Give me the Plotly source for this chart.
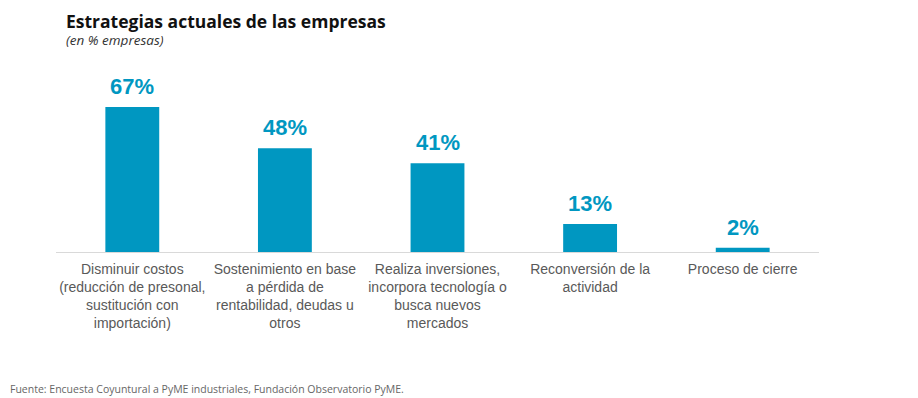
import plotly.graph_objects as go

categories = [
    "Disminuir costos<br>(reducción de presonal,<br>sustitución con<br>importación)",
    "Sostenimiento en base<br>a pérdida de<br>rentabilidad, deudas u<br>otros",
    "Realiza inversiones,<br>incorpora tecnología o<br>busca nuevos<br>mercados",
    "Reconversión de la<br>actividad",
    "Proceso de cierre",
]
values = [67, 48, 41, 13, 2]
value_labels = ["67%", "48%", "41%", "13%", "2%"]

BLUE = "#0097C1"
FONT = "Liberation Sans, Arial, sans-serif"

fig = go.Figure(go.Bar(
    x=categories,
    y=values,
    marker=dict(color=BLUE, line=dict(width=0)),
    hoverinfo="skip",
))

for c, v, t in zip(categories, values, value_labels):
    fig.add_annotation(
        x=c, y=v, text="<b>" + t + "</b>", showarrow=False,
        xanchor="center", yanchor="bottom", yshift=6,
        font=dict(family=FONT, size=22, color=BLUE),
    )

fig.update_layout(
    width=910, height=390,
    margin=dict(l=47.5, r=98.5, t=71, b=146, autoexpand=False),
    paper_bgcolor="white", plot_bgcolor="white",
    bargap=0.647,
    showlegend=False,
    font=dict(family=FONT),
)
fig.update_xaxes(
    showline=True, linecolor="#D9D9D9", linewidth=1,
    tickfont=dict(size=14, color="#595959", family=FONT),
    ticks="", showgrid=False, tickangle=0, automargin=False,
    ticklabelstandoff=4,
)
fig.update_yaxes(visible=False, range=[0, 80], showgrid=False, zeroline=False)

fig.add_annotation(
    text="<b>Estrategias actuales de las empresas</b>",
    xref="paper", yref="paper", x=0, y=1, xanchor="left", yanchor="top",
    xshift=7.5, yshift=71, showarrow=False, height=22, valign="middle",
    font=dict(family="Open Sans, sans-serif", size=17.5, color="#111111"),
)
fig.add_annotation(
    text="<i>(en % empresas)</i>",
    xref="paper", yref="paper", x=0, y=1, xanchor="left", yanchor="top",
    xshift=7.5, yshift=49.5, showarrow=False, height=15, valign="middle",
    font=dict(family="Open Sans, sans-serif", size=13.5, color="#333333"),
)
fig.add_annotation(
    text="Fuente: Encuesta Coyuntural a PyME industriales, Fundación Observatorio PyME.",
    xref="paper", yref="paper", x=0, y=0, xanchor="left", yanchor="bottom",
    xshift=-48, yshift=-146, showarrow=False,
    font=dict(family="Open Sans, sans-serif", size=10.5, color="#666666"),
)

fig.write_html("out.html")
